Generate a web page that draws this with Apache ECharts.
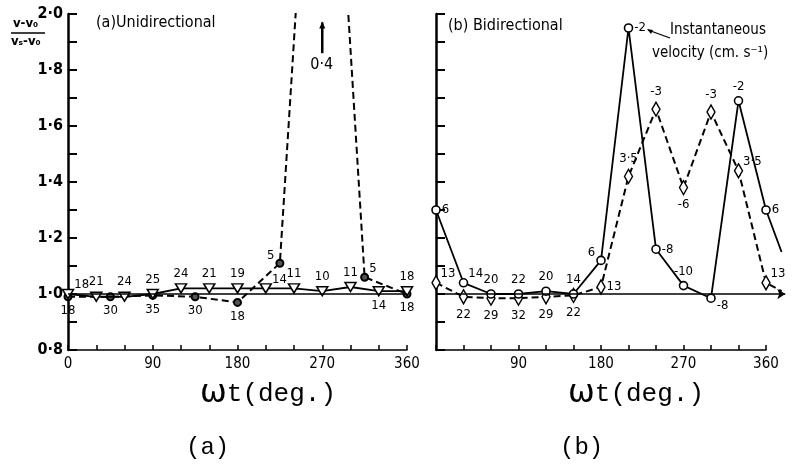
<!DOCTYPE html>
<html>
<head>
<meta charset="utf-8">
<title>Velocity ratio vs phase</title>
<script src="https://cdn.jsdelivr.net/npm/echarts@6/dist/echarts.min.js"></script>
<style>
    html, body { margin: 0; padding: 0; background: #fff; }
    #chart { width: 801px; height: 473px; }
</style>
</head>
<body>
<div id="chart"></div>
<script>

// Data
// ------------------------------

// (a) Unidirectional - solid line, inverted triangles (every 30 deg)
var uniSolidPhase  = [0, 30, 60, 90, 120, 150, 180, 210, 240, 270, 300, 330, 360];
var uniSolidRatio  = [1.00, 0.99, 0.99, 1.00, 1.02, 1.02, 1.02, 1.02, 1.02, 1.01, 1.025, 1.01, 1.01];
var uniSolidVel    = ['18', '21', '24', '25', '24', '21', '19', '14', '11', '10', '11', '14', '18'];

// (a) Unidirectional - dashed line, circles (every 45 deg), 270 deg is off scale
var uniDashPhase   = [0, 45, 90, 135, 180, 225, 270, 315, 360];
var uniDashRatio   = [0.99, 0.99, 0.995, 0.99, 0.97, 1.11, 3.5, 1.06, 1.00];
var uniDashVel     = ['18', '30', '35', '30', '18', '5', '', '5', '18'];
var uniOffScaleVel = '0·4';

// (b) Bidirectional - solid line, circles (last point wraps past 360)
var biPhase        = [0, 30, 60, 90, 120, 150, 180, 210, 240, 270, 300, 330, 360, 377];
var biSolidRatio   = [1.30, 1.04, 1.00, 1.00, 1.01, 1.00, 1.12, 1.95, 1.16, 1.03, 0.985, 1.69, 1.30, 1.15];
var biSolidVel     = ['6', '14', '20', '22', '20', '14', '6', '-2', '-8', '-10', '-8', '-2', '6', ''];

// (b) Bidirectional - dashed line, diamonds
var biDashRatio    = [1.04, 0.99, 0.985, 0.985, 0.99, 0.995, 1.025, 1.42, 1.66, 1.38, 1.65, 1.44, 1.04, 1.01];
var biDashVel      = ['13', '22', '29', '32', '29', '22', '13', '3·5', '-3', '-6', '-3', '3·5', '13', ''];

// Axis ranges
var phaseMin = 0, phaseMax = 360, phaseStep = 30, phaseOverrun = 390;
var ratioMin = 0.8, ratioMax = 2.0, ratioStep = 0.1;
var baseRatio = 1.0, baseEnd = 381;


// Label placement (style only)
// ------------------------------

var uniSolidPlace = ['tr', 'top', 'top', 'top', 'top', 'top', 'top', 'tr', 'top', 'top', 'top', 'bottom', 'top'];
var uniDashPlace  = ['bottom', 'bottom', 'bottom', 'bottom', 'bottom', 'tl', 'none', 'tr', 'bottom'];
var biSolidPlace  = ['right', 'tr', 'top', 'top', 'top', 'top', 'tl', 'right', 'right', 'top', 'br', 'top', 'right', 'none'];
var biDashPlace   = ['tr', 'bottom', 'bottom', 'bottom', 'bottom', 'bottom', 'right', 'top', 'top', 'bottom', 'top', 'tr', 'tr', 'none'];

var labelFont = '"Liberation Sans Narrow", "DejaVu Sans Condensed", sans-serif';
var monoFont = '"Liberation Mono", "DejaVu Sans Mono", monospace';

var placeMap = {
    top:    { position: 'top', offset: [0, 0] },
    bottom: { position: 'bottom', offset: [0, 0] },
    left:   { position: 'left', offset: [0, 0] },
    right:  { position: 'right', offset: [-2, 0] },
    tr:     { position: 'right', offset: [-3, -9] },
    tl:     { position: 'left', offset: [2, -8] },
    br:     { position: 'right', offset: [-2, 7] }
};

function buildPoints(xs, ys, texts, places) {
    return ys.map(function(y, i) {
        var p = placeMap[places[i]];
        var item = { value: [xs[i], y] };
        if (!p) {
            item.label = { show: false };
            if (texts[i] === '') item.symbol = 'none';
            return item;
        }
        item.label = {
            show: true,
            position: p.position,
            offset: p.offset,
            formatter: texts[i],
            distance: 3
        };
        return item;
    });
}


// Chart
// ------------------------------

var chartElement = document.getElementById('chart');
var chart = echarts.init(chartElement, null, { renderer: 'canvas' });

// panel (b) plot box; a second, invisible box with the same scale runs on past 360
var bLeft = 436, bWidth = 330;
var bOverrunRight = 801 - bLeft - bWidth * phaseOverrun / phaseMax;

var xAxisBase = {
    type: 'value',
    min: phaseMin,
    max: phaseMax,
    interval: phaseStep,
    axisLine: { lineStyle: { color: '#000', width: 1.5 } },
    axisTick: { inside: true, length: 5, lineStyle: { color: '#000', width: 1.5 } },
    splitLine: { show: false },
    axisLabel: {
        color: '#000',
        fontSize: 15,
        fontFamily: labelFont,
        margin: 7
    }
};

var yAxisBase = {
    type: 'value',
    min: ratioMin,
    max: ratioMax,
    interval: ratioStep,
    axisLine: { lineStyle: { color: '#000', width: 2.5 } },
    axisTick: { inside: true, length: 9, lineStyle: { color: '#000', width: 2 } },
    splitLine: { show: false },
    axisLabel: {
        color: '#000',
        fontSize: 16,
        fontWeight: 'bold',
        fontFamily: labelFont,
        margin: 5,
        formatter: function(v) {
            var t = Math.round(v * 10);
            return t % 2 === 0 ? (t / 10).toFixed(1).replace('.', '·') : '';
        }
    }
};

var pointLabel = {
    color: '#000',
    fontSize: 13,
    fontFamily: labelFont
};

var solidStyle = { color: '#000', width: 1.8, type: 'solid' };
var dashStyle = { color: '#000', width: 2, type: [7, 4] };

chart.setOption({
    animation: false,
    backgroundColor: '#fff',

    grid: [
        { left: 68, right: 394, top: 14, bottom: 123 },
        { left: bLeft, right: 801 - bLeft - bWidth, top: 14, bottom: 123 },
        { left: bLeft, right: bOverrunRight, top: 14, bottom: 123 }
    ],

    xAxis: [
        echarts.util.merge({
            gridIndex: 0,
            axisLabel: { formatter: function(v) { return v % 90 === 0 ? String(v) : ''; } }
        }, xAxisBase),
        echarts.util.merge({
            gridIndex: 1,
            axisLabel: { formatter: function(v) { return (v % 90 === 0 && v > 0) ? String(v) : ''; } }
        }, xAxisBase),
        {
            gridIndex: 2,
            type: 'value',
            min: phaseMin,
            max: phaseOverrun,
            interval: phaseStep,
            show: false
        }
    ],

    yAxis: [
        echarts.util.merge({ gridIndex: 0 }, yAxisBase, true),
        echarts.util.merge({ gridIndex: 1, axisLabel: { show: false } }, yAxisBase),
        {
            gridIndex: 2,
            type: 'value',
            min: ratioMin,
            max: ratioMax,
            interval: ratioStep,
            show: false
        }
    ],

    series: [
        // (a) solid with inverted triangles
        {
            name: 'uni-solid',
            type: 'line',
            xAxisIndex: 0,
            yAxisIndex: 0,
            symbol: 'triangle',
            symbolRotate: 180,
            symbolSize: [11, 9],
            showAllSymbol: true,
            lineStyle: solidStyle,
            itemStyle: { color: '#fff', borderColor: '#000', borderWidth: 1.5 },
            label: pointLabel,
            emphasis: { disabled: true },
            z: 3,
            data: buildPoints(uniSolidPhase, uniSolidRatio, uniSolidVel, uniSolidPlace),
            markLine: {
                silent: true,
                symbol: 'none',
                label: { show: false },
                lineStyle: { color: '#000', width: 1.5, type: 'solid' },
                data: [{ yAxis: baseRatio }]
            }
        },
        // (a) dashed with circles
        {
            name: 'uni-dash',
            type: 'line',
            xAxisIndex: 0,
            yAxisIndex: 0,
            symbol: 'circle',
            symbolSize: 7,
            showAllSymbol: true,
            clip: true,
            lineStyle: dashStyle,
            itemStyle: { color: '#555', borderColor: '#000', borderWidth: 2 },
            label: pointLabel,
            emphasis: { disabled: true },
            z: 2,
            data: buildPoints(uniDashPhase, uniDashRatio, uniDashVel, uniDashPlace)
        },
        // (b) solid with circles
        {
            name: 'bi-solid',
            type: 'line',
            xAxisIndex: 2,
            yAxisIndex: 2,
            symbol: 'circle',
            symbolSize: 8,
            showAllSymbol: true,
            clip: false,
            lineStyle: solidStyle,
            itemStyle: { color: '#fff', borderColor: '#000', borderWidth: 1.6 },
            label: pointLabel,
            emphasis: { disabled: true },
            z: 3,
            data: buildPoints(biPhase, biSolidRatio, biSolidVel, biSolidPlace),
            markLine: {
                silent: true,
                symbol: ['none', 'arrow'],
                symbolSize: 8,
                label: { show: false },
                lineStyle: { color: '#000', width: 1.5, type: 'solid' },
                data: [[{ coord: [phaseMin, baseRatio], symbol: 'none' }, { coord: [baseEnd, baseRatio] }]]
            }
        },
        // (b) dashed with diamonds
        {
            name: 'bi-dash',
            type: 'line',
            xAxisIndex: 2,
            yAxisIndex: 2,
            symbol: 'diamond',
            symbolSize: [8, 14],
            showAllSymbol: true,
            clip: false,
            lineStyle: dashStyle,
            itemStyle: { color: '#fff', borderColor: '#000', borderWidth: 1.5 },
            label: pointLabel,
            emphasis: { disabled: true },
            z: 2,
            data: buildPoints(biPhase, biDashRatio, biDashVel, biDashPlace)
        }
    ]
});


//
// Annotations
//

// arrow to the off-scale point of the unidirectional dashed curve
var arrowTop = chart.convertToPixel({ xAxisIndex: 0, yAxisIndex: 0 }, [uniDashPhase[6], 1.97]);
var arrowBottom = chart.convertToPixel({ xAxisIndex: 0, yAxisIndex: 0 }, [uniDashPhase[6], 1.86]);

var nameStyle = {
    text: '{w|ω}t(deg.)',
    fontSize: 26,
    fontFamily: monoFont,
    fill: '#000',
    rich: { w: { fontSize: 32, fontFamily: 'DejaVu Sans', fill: '#000' } }
};

chart.setOption({
    graphic: [
        // y axis title as a fraction
        { type: 'text', left: 13, top: 17, style: { text: 'v-v₀', fontSize: 13, fontFamily: labelFont, fontWeight: 'bold', fill: '#000' } },
        { type: 'line', shape: { x1: 11, y1: 33, x2: 45, y2: 33 }, style: { stroke: '#000', lineWidth: 1.3 } },
        { type: 'text', left: 11, top: 35, style: { text: 'vₛ-v₀', fontSize: 13, fontFamily: labelFont, fontWeight: 'bold', fill: '#000' } },

        // panel titles
        { type: 'text', left: 96, top: 15, style: { text: '(a)Unidirectional', fontSize: 16, fontFamily: labelFont, fill: '#000' } },
        { type: 'text', left: 448, top: 18, style: { text: '(b) Bidirectional', fontSize: 16, fontFamily: labelFont, fill: '#000' } },

        // off-scale note
        { type: 'line', shape: { x1: arrowBottom[0], y1: arrowBottom[1], x2: arrowTop[0], y2: arrowTop[1] }, style: { stroke: '#000', lineWidth: 2.5 } },
        { type: 'polygon', shape: { points: [[arrowTop[0] - 3, arrowTop[1] + 6], [arrowTop[0] + 3, arrowTop[1] + 6], [arrowTop[0], arrowTop[1] - 1]] }, style: { fill: '#000' } },
        { type: 'text', left: arrowTop[0] - 12, top: arrowBottom[1] + 4, style: { text: uniOffScaleVel, fontSize: 16, fontFamily: labelFont, fill: '#000' } },

        // legend note
        { type: 'line', shape: { x1: 648, y1: 30, x2: 670, y2: 38 }, style: { stroke: '#000', lineWidth: 1.3 } },
        { type: 'polygon', shape: { points: [[647, 29], [653, 30], [651, 34]] }, style: { fill: '#000' } },
        { type: 'text', left: 670, top: 23, style: { text: 'Instantaneous', fontSize: 15, fontFamily: labelFont, fill: '#000' } },
        { type: 'text', left: 652, top: 46, style: { text: 'velocity (cm. s⁻¹)', fontSize: 15, fontFamily: labelFont, fill: '#000' } },

        // axis names
        { type: 'text', left: 200, top: 378, style: nameStyle },
        { type: 'text', left: 568, top: 378, style: nameStyle },

        // panel letters
        { type: 'text', left: 186, top: 436, style: { text: '(a)', fontSize: 24, fontFamily: monoFont, fill: '#000' } },
        { type: 'text', left: 560, top: 436, style: { text: '(b)', fontSize: 24, fontFamily: monoFont, fill: '#000' } }
    ]
});


// Resize
window.addEventListener('resize', function() {
    chart.resize();
});

</script>
</body>
</html>
